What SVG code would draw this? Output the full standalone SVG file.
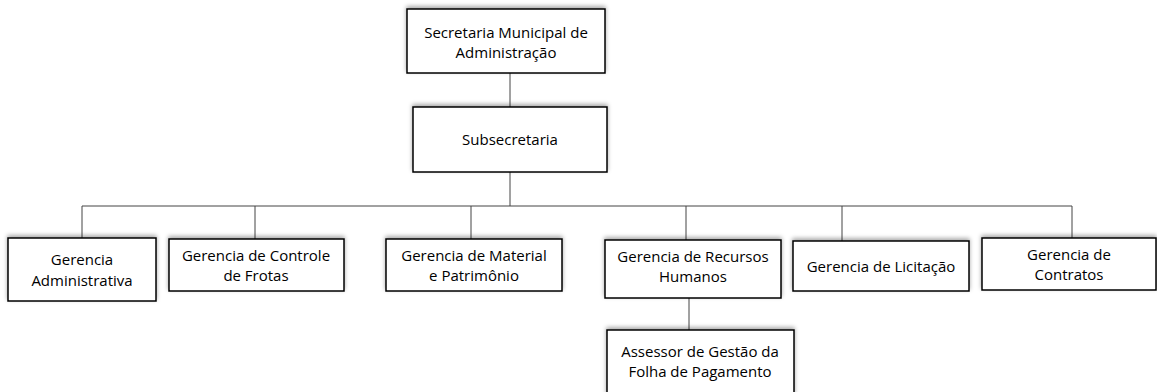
<svg xmlns="http://www.w3.org/2000/svg" width="1157" height="392" viewBox="0 0 1157 392">
<style>
.box{fill:#fff;stroke:#000;stroke-width:1.5;filter:url(#sh)}
.t{font-family:"Open Sans","Liberation Sans",sans-serif;font-size:15px;fill:#000;text-anchor:middle}
.c{stroke:#444;stroke-width:1;fill:none}
</style>
<defs>
<filter id="sh" x="-10%" y="-20%" width="120%" height="140%">
<feDropShadow dx="0" dy="-2" stdDeviation="2" flood-color="#000" flood-opacity="0.35"/>
</filter>
</defs>
<g id="connectors">
<line class="c" x1="510" y1="73" x2="510" y2="107"/>
<line class="c" x1="510" y1="172" x2="510" y2="206"/>
<line class="c" x1="82" y1="206" x2="1072" y2="206"/>
<line class="c" x1="82" y1="206" x2="82" y2="238"/>
<line class="c" x1="255" y1="206" x2="255" y2="239"/>
<line class="c" x1="471" y1="206" x2="471" y2="239"/>
<line class="c" x1="686" y1="206" x2="686" y2="240"/>
<line class="c" x1="842" y1="206" x2="842" y2="241"/>
<line class="c" x1="1072" y1="206" x2="1072" y2="238"/>
<line class="c" x1="689" y1="298" x2="689" y2="330"/>
</g>
<g id="n-secretaria">
<rect class="box" x="407" y="9" width="198" height="64"/>
<text class="t" x="506" y="38">Secretaria Municipal de</text>
<text class="t" x="506" y="58">Administração</text>
</g>
<g id="n-subsecretaria">
<rect class="box" x="413" y="107" width="194" height="65"/>
<text class="t" x="510" y="145">Subsecretaria</text>
</g>
<g id="n-administrativa">
<rect class="box" x="8" y="238" width="148" height="63"/>
<text class="t" x="82" y="265">Gerencia</text>
<text class="t" x="82" y="286">Administrativa</text>
</g>
<g id="n-frotas">
<rect class="box" x="169" y="239" width="175" height="52"/>
<text class="t" x="256" y="261">Gerencia de Controle</text>
<text class="t" x="256" y="281">de Frotas</text>
</g>
<g id="n-material">
<rect class="box" x="386" y="239" width="176" height="52"/>
<text class="t" x="474" y="261">Gerencia de Material</text>
<text class="t" x="474" y="281">e Patrimônio</text>
</g>
<g id="n-rh">
<rect class="box" x="605" y="240" width="176" height="58"/>
<text class="t" x="693" y="262">Gerencia de Recursos</text>
<text class="t" x="693" y="282">Humanos</text>
</g>
<g id="n-licitacao">
<rect class="box" x="793" y="241" width="176" height="50"/>
<text class="t" x="881" y="272">Gerencia de Licitação</text>
</g>
<g id="n-contratos">
<rect class="box" x="982" y="238" width="174" height="52"/>
<text class="t" x="1069" y="260">Gerencia de</text>
<text class="t" x="1069" y="280">Contratos</text>
</g>
<g id="n-assessor">
<rect class="box" x="607" y="330" width="187" height="66"/>
<text class="t" x="700" y="357">Assessor de Gestão da</text>
<text class="t" x="700" y="377">Folha de Pagamento</text>
</g>
</svg>
